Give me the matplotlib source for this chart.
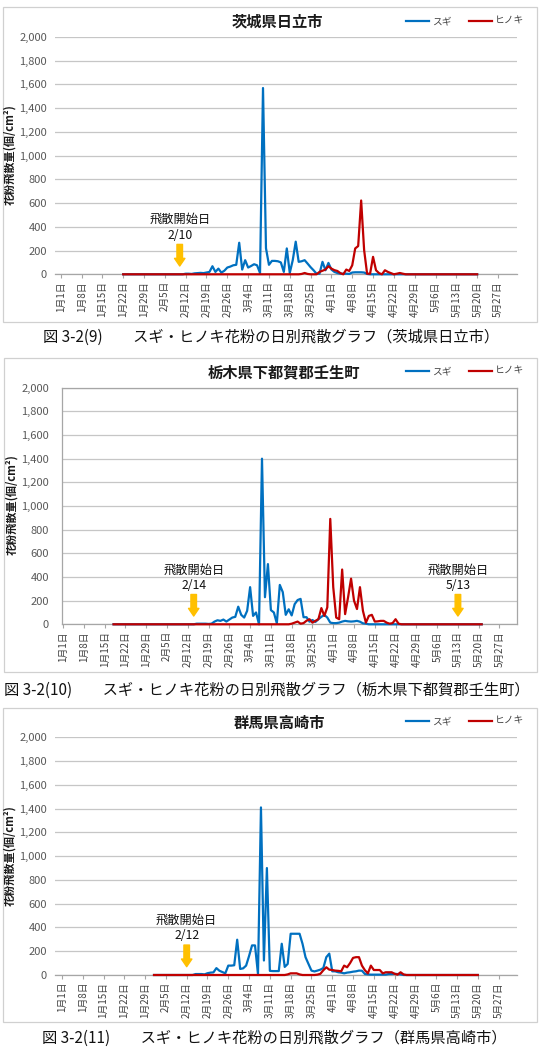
import numpy as np
import pandas as pd
import matplotlib
matplotlib.use("Agg")
import matplotlib.pyplot as plt
from matplotlib.patches import Rectangle

plt.rcParams['font.family'] = ['Noto Sans CJK JP', 'DejaVu Sans']

# ---------------- data ----------------
YEAR_START = pd.Timestamp('2016-01-01')
tick_dates = pd.date_range('2016-01-01', '2016-05-27', freq='7D')
tick_labels = [f"{d.month}月{d.day}日" for d in tick_dates]
y_ticks = [0, 200, 400, 600, 800, 1000, 1200, 1400, 1600, 1800, 2000]

titles = ['茨城県日立市', '栃木県下都賀郡壬生町', '群馬県高崎市']
series_names = ['スギ', 'ヒノキ']
ylabel = '花粉飛散量(個/cm²)'
captions = ['図 3-2(9)　　スギ・ヒノキ花粉の日別飛散グラフ（茨城県日立市）',
            '図 3-2(10)　　スギ・ヒノキ花粉の日別飛散グラフ（栃木県下都賀郡壬生町）',
            '図 3-2(11)　　スギ・ヒノキ花粉の日別飛散グラフ（群馬県高崎市）']

# first date of each series
start1 = '2016-01-22'
start2 = '2016-01-18'
start3 = '2016-02-01'

# Hitachi
sugi1 = [0] * 21 + [
    5, 5, 3, 8, 10, 12, 10, 15, 20, 68,
    20, 48, 14, 30, 57, 65, 76, 80, 266, 40,
    119, 57, 70, 85, 76, 11, 1570, 220, 80, 113,
    113, 110, 100, 20, 218, 11, 119, 275, 105, 110,
    119, 90, 60, 34, 5, 5, 105, 34, 96, 40,
    20, 11, 5, 5, 5, 3, 15, 17, 17, 17,
    15, 3] + [0] * 37
hinoki1 = [0] * 60 + [
    3, 11, 3, 0, 0, 0, 20, 30, 40, 68,
    48, 35, 28, 10, 0, 40, 28, 76, 218, 238,
    622, 204, 5, 5, 147, 34, 10, 0, 34, 20,
    10, 0, 5, 11, 5] + [0] * 25

# Mibu
sugi2 = [0] * 28 + [
    5, 5, 5, 5, 3, 5, 23, 34, 29, 40,
    23, 40, 57, 63, 149, 80, 57, 114, 314, 71,
    100, 0, 1400, 229, 509, 120, 100, 8, 333, 272,
    80, 127, 75, 170, 205, 215, 60, 60, 22, 36,
    20, 43, 63, 80, 57, 14, 10, 10, 14, 23,
    29, 25, 23, 25, 29, 22, 8, 5] + [0] * 39
hinoki2 = [0] * 60 + [
    5, 14, 23, 5, 10, 30, 43, 14, 29, 43,
    137, 71, 143, 891, 314, 57, 43, 463, 86, 229,
    386, 200, 129, 314, 114, 14, 71, 80, 23, 25,
    29, 29, 14, 5, 10, 43, 5] + [0] * 28

# Takasaki
sugi3 = [0] * 14 + [
    8, 8, 8, 5, 15, 20, 22, 58, 36, 25,
    14, 79, 79, 82, 297, 51, 56, 79, 160, 249,
    249, 8, 1410, 122, 900, 35, 33, 33, 33, 263,
    68, 93, 347, 347, 347, 347, 262, 150, 93, 37,
    30, 37, 45, 59, 150, 180, 31, 31, 23, 20,
    14, 20, 23, 28, 31, 37, 36, 8, 5, 3,
    3, 3, 3, 3, 3, 8, 8, 10, 8, 5] + [0] * 26
hinoki3 = [0] * 45 + [
    5, 14, 14, 14, 5, 0, 0, 0, 0, 0,
    3, 10, 40, 65, 45, 42, 37, 35, 31, 79,
    65, 100, 144, 150, 150, 79, 40, 14, 79, 42,
    42, 42, 14, 23, 23, 23, 10, 3, 23, 5] + [0] * 25

onsets = [['2016-02-10'], ['2016-02-14', '2016-05-13'], ['2016-02-12']]
onset_text = '飛散開始日'

# ---------------- layout (pixels) ----------------
W, H = 541, 1049
fig = plt.figure(figsize=(W / 100, H / 100), dpi=100)
fig.patch.set_facecolor('white')

def fx(px):
    return px / W

def fy(py):
    return 1 - py / H

panels = [
    dict(box=(3, 7, 537, 322), plot=(55.4, 37.0, 517.3, 274.3), xlim=(-1.8, 153.5),
         title=(277, 22), legend=(406, 21), ylab=(10, 155), framed=False, ypad=6.0,
         cap=(271, 337, 'center')),
    dict(box=(4, 358, 537, 672), plot=(61.6, 387.7, 517.3, 624.3), xlim=(-0.5, 153.0),
         title=(284, 372), legend=(406, 371), ylab=(12, 505), framed=True, ypad=9.0,
         cap=(4, 690, 'left')),
    dict(box=(3, 708, 537, 1022), plot=(55.4, 737.3, 517.3, 975.0), xlim=(-2.2, 153.3),
         title=(279, 723), legend=(406, 721), ylab=(10, 856), framed=False, ypad=6.0,
         cap=(274, 1038, 'center')),
]
data = [(start1, sugi1, hinoki1), (start2, sugi2, hinoki2), (start3, sugi3, hinoki3)]

BLUE = '#0070C0'
RED = '#C00000'
GRID = '#C6C6C6'

for i, p in enumerate(panels):
    bx0, by0, bx1, by1 = p['box']
    fig.add_artist(Rectangle((fx(bx0), fy(by1)), fx(bx1 - bx0), (by1 - by0) / H,
                             transform=fig.transFigure, fill=False,
                             edgecolor='#D0D0D0', lw=0.9))
    l, t, r, b = p['plot']
    ax = fig.add_axes([fx(l), fy(b), fx(r - l), (b - t) / H])
    start, sugi, hinoki = data[i]
    d0 = (pd.Timestamp(start) - YEAR_START).days
    xs = np.arange(d0, d0 + len(sugi))
    xh = np.arange(d0, d0 + len(hinoki))
    l1, = ax.plot(xs, sugi, color=BLUE, lw=1.6, clip_on=False, solid_joinstyle='round', zorder=4)
    l2, = ax.plot(xh, hinoki, color=RED, lw=1.6, clip_on=False, solid_joinstyle='round', zorder=5)

    ax.set_xlim(*p['xlim'])
    ax.set_ylim(0, 2000)
    ax.set_yticks(y_ticks)
    ax.set_yticklabels([f"{v:,}" for v in y_ticks], fontsize=8, color='#595959')
    ax.set_xticks([(d - YEAR_START).days for d in tick_dates])
    ax.set_xticklabels(tick_labels, rotation=90, fontsize=7, color='#404040')
    ax.tick_params(axis='x', direction='out', length=3, width=0.8, color='#A6A6A6', pad=2)
    ax.tick_params(axis='y', length=0, pad=p['ypad'])
    ax.yaxis.grid(True, color=GRID, lw=0.9)
    ax.set_axisbelow(True)
    for side, sp in ax.spines.items():
        if p['framed']:
            sp.set_color('#A6A6A6')
            sp.set_linewidth(0.9)
        else:
            if side == 'bottom':
                sp.set_color('#A6A6A6')
                sp.set_linewidth(0.9)
            else:
                sp.set_visible(False)
    ax.set_facecolor('none')

    # title
    fig.text(fx(p['title'][0]), fy(p['title'][1]), titles[i], fontsize=11,
             fontweight='bold', ha='center', va='center', color='#1a1a1a')
    # legend
    fig.legend([l1, l2], series_names, loc='center left',
               bbox_to_anchor=(fx(p['legend'][0]), fy(p['legend'][1])),
               bbox_transform=fig.transFigure, ncol=2, frameon=False,
               fontsize=7, handlelength=2.4, handletextpad=0.25,
               columnspacing=1.8, borderpad=0, borderaxespad=0,
               labelcolor='#404040')
    # y label
    fig.text(fx(p['ylab'][0]), fy(p['ylab'][1]), ylabel, rotation=90, fontsize=8,
             fontweight='bold', ha='center', va='center', color='#1a1a1a')
    # onset annotations
    for od in onsets[i]:
        ts = pd.Timestamp(od)
        dd = (ts - YEAR_START).days
        ax.text(dd, 460, onset_text, fontsize=8.8, ha='center', va='center', color='#111111')
        ax.text(dd, 330, f"{ts.month}/{ts.day}", fontsize=8.8, ha='center', va='center',
                color='#111111')
        ax.annotate('', xy=(dd, 70), xytext=(dd, 252),
                    arrowprops=dict(arrowstyle='simple,head_width=0.75,head_length=0.55,tail_width=0.4',
                                    color='#FFC000', shrinkA=0, shrinkB=0, mutation_scale=10))
    # caption
    cx, cy, ha = p['cap']
    fig.text(fx(cx), fy(cy), captions[i], fontsize=11, ha=ha, va='center', color='#111111')

fig.savefig('out.png', dpi=100, facecolor='white')
